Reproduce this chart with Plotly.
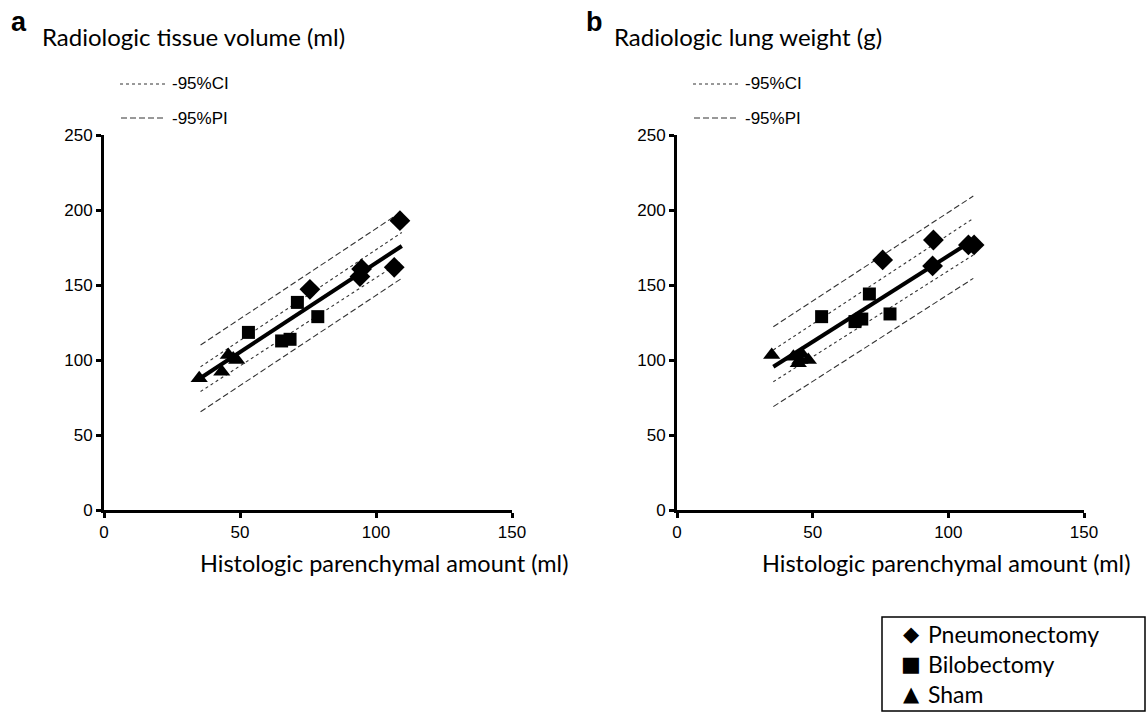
import plotly.graph_objects as go

# ---------------- data ----------------
# Panel a: Radiologic tissue volume (ml)
a_pn_x = [108.8, 94.7, 94.1, 106.7, 75.7]
a_pn_y = [192.9, 160.7, 155.6, 161.8, 147.1]
a_bi_x = [71.1, 53.1, 78.6, 65.3, 68.4]
a_bi_y = [138.4, 118.4, 128.9, 112.7, 113.8]
a_sh_x = [35.0, 43.3, 45.7, 47.5, 48.8]
a_sh_y = [87.8, 92.2, 103.3, 101.0, 100.0]

# Panel b: Radiologic lung weight (g)
b_pn_x = [94.5, 75.8, 94.2, 107.4, 109.5]
b_pn_y = [180.0, 166.7, 162.7, 176.7, 176.7]
b_bi_x = [70.9, 53.3, 78.5, 65.6, 68.1]
b_bi_y = [144.0, 128.9, 130.7, 125.6, 127.3]
b_sh_x = [34.9, 42.9, 45.3, 44.7, 48.4, 46.0]
b_sh_y = [103.3, 102.2, 100.0, 97.8, 100.0, 104.0]

# regression / interval lines (read at x ends)
a_line_x = [35.5, 109.5]
a_fit = [88.0, 176.0]
a_ci_up = [95.5, 185.0]
a_ci_lo = [79.0, 166.0]
a_pi_up = [110.0, 199.0]
a_pi_lo = [65.5, 154.5]

b_line_x = [35.5, 109.2]
b_fit = [95.5, 180.0]
b_ci_up = [106.7, 194.4]
b_ci_lo = [85.5, 170.0]
b_pi_up = [122.2, 209.3]
b_pi_lo = [68.9, 154.4]

x_ticks = [0, 50, 100, 150]
y_ticks = [0, 50, 100, 150, 200, 250]

group_names = ["Pneumonectomy", "Bilobectomy", "Sham"]
group_glyphs = ["◆", "■", "▲"]

FONT_T = "Lato"
FONT_N = "Liberation Sans"

fig = go.Figure()


def add_panel(fig, xa, ya, lx, fit, ciu, cil, piu, pil, pn, bi, sh):
    for yy, dash in [(piu, "6px,3px"), (pil, "6px,3px"), (ciu, "dot"), (cil, "dot")]:
        fig.add_trace(go.Scatter(x=lx, y=yy, mode="lines", xaxis=xa, yaxis=ya,
                                 line=dict(color="#333", width=1.1, dash=dash),
                                 showlegend=False, hoverinfo="skip"))
    fig.add_trace(go.Scatter(x=lx, y=fit, mode="lines", xaxis=xa, yaxis=ya,
                             line=dict(color="black", width=4),
                             showlegend=False, hoverinfo="skip"))
    for (xs, ys), sym, sz in [(pn, "diamond", 16), (bi, "square", 13), (sh, "triangle-up", 15)]:
        fig.add_trace(go.Scatter(x=xs, y=ys, mode="markers", xaxis=xa, yaxis=ya,
                                 marker=dict(symbol=sym, size=sz, color="black"),
                                 showlegend=False))


add_panel(fig, "x", "y", a_line_x, a_fit, a_ci_up, a_ci_lo, a_pi_up, a_pi_lo,
          (a_pn_x, a_pn_y), (a_bi_x, a_bi_y), (a_sh_x, a_sh_y))
add_panel(fig, "x2", "y2", b_line_x, b_fit, b_ci_up, b_ci_lo, b_pi_up, b_pi_lo,
          (b_pn_x, b_pn_y), (b_bi_x, b_bi_y), (b_sh_x, b_sh_y))

W, H = 1146, 712


def px(x):
    return x / W


def py(y):
    return 1 - y / H


ydom = [py(510), py(135)]
axis_common = dict(showgrid=False, zeroline=False, showline=True, linecolor="black",
                   linewidth=3, ticks="outside", ticklen=5, tickwidth=2.5, tickcolor="black",
                   automargin=False,
                   tickfont=dict(family=FONT_N, size=17, color="black"))

fig.update_layout(
    width=W, height=H,
    template="none",
    margin=dict(l=0, r=0, t=0, b=0, pad=0),
    paper_bgcolor="white", plot_bgcolor="white",
    showlegend=False,
    xaxis=dict(domain=[px(104), px(512)], range=[0, 150], tickvals=x_ticks,
               anchor="y", **axis_common),
    yaxis=dict(domain=ydom, range=[0, 250], tickvals=y_ticks, anchor="x", **axis_common),
    xaxis2=dict(domain=[px(677), px(1084)], range=[0, 150], tickvals=x_ticks,
                anchor="y2", **axis_common),
    yaxis2=dict(domain=ydom, range=[0, 250], tickvals=y_ticks, anchor="x2", **axis_common),
)

ann = []
shapes = []


def text(x, y, s, size, family, xanchor="left"):
    ann.append(dict(x=px(x), y=py(y), xref="paper", yref="paper", text=s, showarrow=False,
                    xanchor=xanchor, yanchor="middle",
                    font=dict(family=family, size=size, color="black")))


# panel letters and y titles
text(9, 22, "<b>a</b>", 27, FONT_N)
text(584, 22, "<b>b</b>", 27, FONT_N)
text(40, 36, "Radiologic tissue volume (ml)", 24, FONT_T)
text(612, 36, "Radiologic lung weight (g)", 24, FONT_T)

# x titles
text(384, 563, "Histologic parenchymal amount (ml)", 23.5, FONT_T, xanchor="center")
text(946, 563, "Histologic parenchymal amount (ml)", 23.5, FONT_T, xanchor="center")

# CI / PI keys
for x0 in (120, 693):
    shapes.append(dict(type="line", xref="paper", yref="paper", x0=px(x0), x1=px(x0 + 46),
                       y0=py(84), y1=py(84), line=dict(color="#333", width=1, dash="dot")))
    shapes.append(dict(type="line", xref="paper", yref="paper", x0=px(x0 + 1), x1=px(x0 + 46),
                       y0=py(118), y1=py(118), line=dict(color="#333", width=1, dash="6px,3px")))
    text(x0 + 50, 84, "-95%CI", 17, FONT_N)
    text(x0 + 50, 118, "-95%PI", 17, FONT_N)

# group legend box
shapes.append(dict(type="rect", xref="paper", yref="paper", x0=px(882), x1=px(1145),
                   y0=py(711), y1=py(617), line=dict(color="black", width=1.5),
                   fillcolor="white"))
for i, (g, nm) in enumerate(zip(group_glyphs, group_names)):
    yy = 634 + 30 * i
    text(911, yy, g, 21, "DejaVu Sans", xanchor="center")
    text(926, yy, nm, 23, FONT_T)

fig.update_layout(annotations=ann, shapes=shapes)

fig.write_html(
    "out.html",
    config={"displayModeBar": False},
    post_script="document.body.style.margin='0';document.body.style.overflow='hidden';",
)
